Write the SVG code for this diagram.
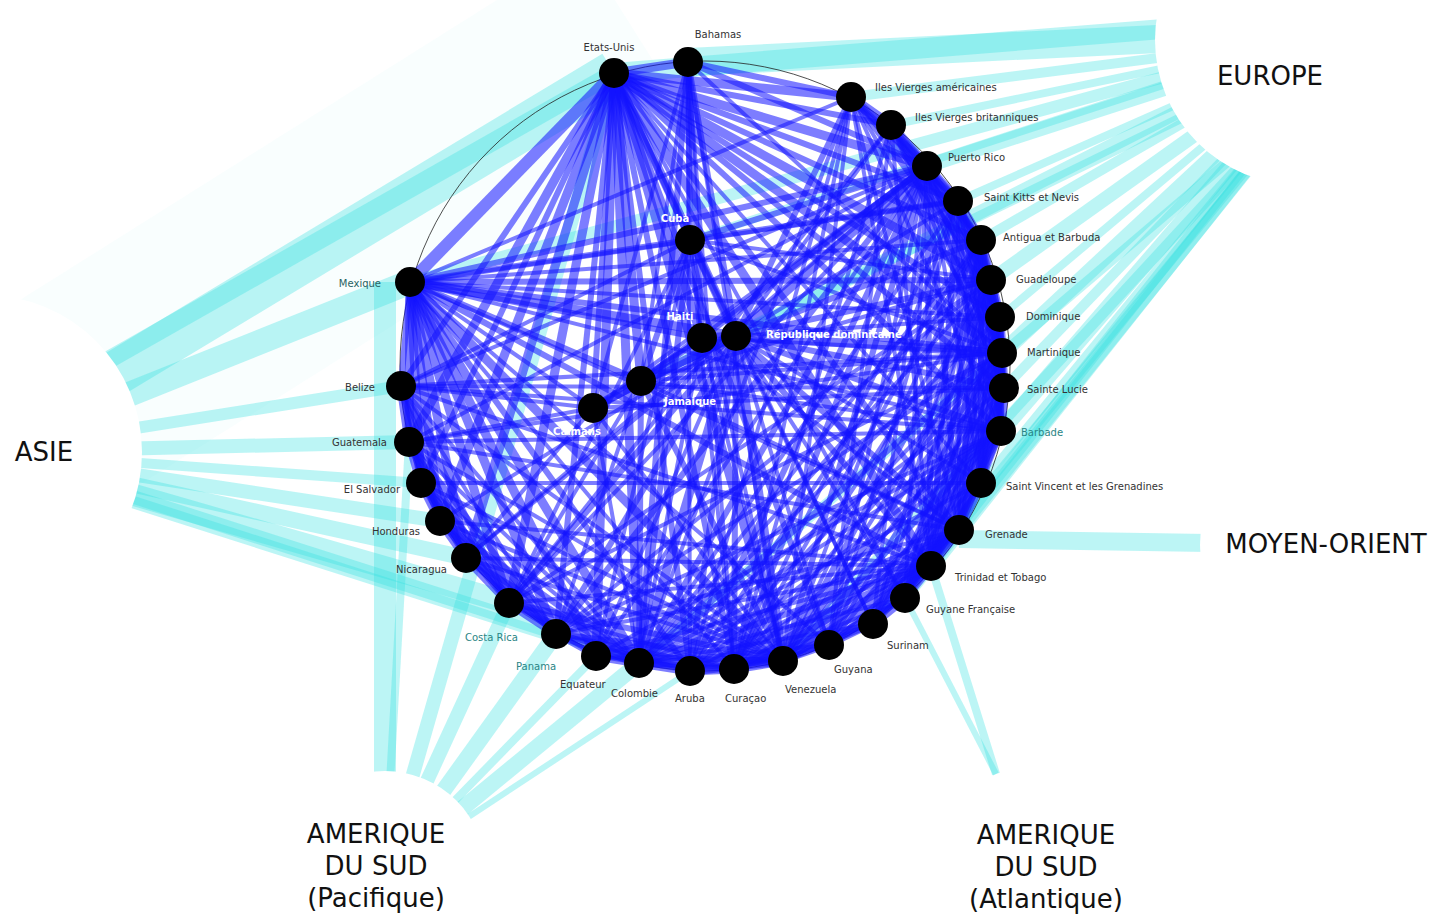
<svg xmlns="http://www.w3.org/2000/svg" width="1429" height="914" viewBox="0 0 1429 914">
<style>
.cy{stroke:#35e0e0;stroke-opacity:0.33;fill:none;stroke-linecap:butt}
.ed path{stroke:#1212ff;stroke-opacity:0.55;fill:none;stroke-linecap:butt}
.e1{stroke-width:4}
.e2{stroke-width:6}
.e3{stroke-width:9}
.e4{stroke-width:12}
.nd circle{fill:#000}
.lb{font-family:"DejaVu Sans",Verdana,sans-serif;font-size:10px;fill:#333}
.lt{fill:#2a8585}
.in{font-family:"DejaVu Sans",Verdana,sans-serif;font-size:10px;font-weight:bold;fill:#fff}
.rg{font-family:"DejaVu Sans",Verdana,sans-serif;font-size:26px;fill:#111;text-anchor:middle}
</style>
<rect width="1429" height="914" fill="#fff"/>
<g id="region-bands">
<path class="cy" style="stroke-opacity:0.03" stroke-width="220" d="M640 40L-15 452"/>
<path class="cy" stroke-width="45" d="M614 73L-15 452"/>
<path class="cy" stroke-width="18" d="M614 73L-15 430"/>
<path class="cy" stroke-width="25" d="M410 282L-15 452"/>
<path class="cy" stroke-width="12" d="M401 386L-15 452"/>
<path class="cy" stroke-width="14" d="M409 442L-15 452"/>
<path class="cy" stroke-width="10" d="M421 483L-15 452"/>
<path class="cy" stroke-width="14" d="M440 521L-15 452"/>
<path class="cy" stroke-width="16" d="M466 558L-15 452"/>
<path class="cy" stroke-width="22" d="M509 603L-15 452"/>
<path class="cy" stroke-width="18" d="M556 634L-15 452"/>
<path class="cy" stroke-width="8" d="M639 663L-15 452"/>
<path class="cy" stroke-width="20" d="M614 73L1300 18"/>
<path class="cy" stroke-width="28" d="M688 62L1300 32"/>
<path class="cy" stroke-width="10" d="M851 97L1300 40"/>
<path class="cy" stroke-width="8" d="M891 125L1300 40"/>
<path class="cy" stroke-width="14" d="M927 166L1300 45"/>
<path class="cy" stroke-width="8" d="M958 201L1300 50"/>
<path class="cy" stroke-width="10" d="M981 240L1300 55"/>
<path class="cy" stroke-width="14" d="M991 280L1300 60"/>
<path class="cy" stroke-width="8" d="M1000 317L1300 65"/>
<path class="cy" stroke-width="16" d="M1002 353L1300 75"/>
<path class="cy" stroke-width="10" d="M1004 388L1300 80"/>
<path class="cy" stroke-width="16" d="M1001 431L1300 85"/>
<path class="cy" stroke-width="8" d="M981 483L1300 95"/>
<path class="cy" stroke-width="6" d="M959 530L1300 100"/>
<path class="cy" stroke-width="16" d="M931 566L1300 100"/>
<path class="cy" stroke-width="12" d="M905 598L1300 105"/>
<path class="cy" stroke-width="8" d="M873 624L1300 105"/>
<path class="cy" stroke-width="14" d="M736 336L1300 50"/>
<path class="cy" stroke-width="10" d="M641 381L1300 60"/>
<path class="cy" stroke-width="8" d="M690 240L1300 40"/>
<path class="cy" stroke-width="10" d="M639 663L1300 100"/>
<path class="cy" stroke-width="10" d="M783 661L1300 100"/>
<path class="cy" stroke-width="12" d="M410 282L1300 40"/>
<path class="cy" stroke-width="18" d="M959 539L1330 545"/>
<path class="cy" stroke-width="8" d="M931 566L996 774"/>
<path class="cy" stroke-width="6" d="M905 598L996 774"/>
<path class="cy" stroke-width="22" d="M385 282L385 872"/>
<path class="cy" stroke-width="14" d="M614 73L385 872"/>
<path class="cy" stroke-width="8" d="M409 442L385 872"/>
<path class="cy" stroke-width="14" d="M509 603L385 872"/>
<path class="cy" stroke-width="16" d="M556 634L385 872"/>
<path class="cy" stroke-width="8" d="M596 656L385 872"/>
<path class="cy" stroke-width="16" d="M639 663L385 872"/>
<path class="cy" stroke-width="6" d="M690 671L385 872"/>
<circle cx="-15" cy="452" r="157" fill="#fff"/>
<circle cx="1300" cy="40" r="145" fill="#fff"/>
<circle cx="1330" cy="545" r="130" fill="#fff"/>
<circle cx="385" cy="872" r="101" fill="#fff"/>
</g>
<circle cx="705" cy="366" r="305" fill="none" stroke="#222" stroke-width="0.8"/>
<g id="connectors" class="ed">
<path class="e3" d="M614 73L688 62"/><path class="e3" d="M614 73L851 97"/><path class="e2" d="M614 73L891 125"/><path class="e3" d="M614 73L927 166"/><path class="e2" d="M614 73L958 201"/><path class="e2" d="M614 73L981 240"/><path class="e3" d="M614 73L991 280"/><path class="e2" d="M614 73L1000 317"/><path class="e3" d="M614 73L1002 353"/><path class="e2" d="M614 73L1004 388"/><path class="e2" d="M614 73L1001 431"/><path class="e1" d="M614 73L981 483"/><path class="e2" d="M614 73L959 530"/><path class="e3" d="M614 73L931 566"/><path class="e1" d="M614 73L905 598"/><path class="e1" d="M614 73L873 624"/><path class="e2" d="M614 73L829 645"/><path class="e3" d="M614 73L783 661"/><path class="e2" d="M614 73L734 669"/><path class="e2" d="M614 73L690 671"/><path class="e3" d="M614 73L639 663"/><path class="e3" d="M614 73L596 656"/><path class="e2" d="M614 73L556 634"/><path class="e3" d="M614 73L509 603"/><path class="e3" d="M614 73L466 558"/><path class="e3" d="M614 73L440 521"/><path class="e2" d="M614 73L421 483"/><path class="e3" d="M614 73L409 442"/><path class="e2" d="M614 73L401 386"/><path class="e4" d="M614 73L410 282"/><path class="e2" d="M614 73L690 240"/><path class="e3" d="M614 73L702 338"/><path class="e3" d="M614 73L736 336"/><path class="e3" d="M614 73L641 381"/><path class="e2" d="M614 73L593 408"/>
<path class="e1" d="M410 282L851 97"/><path class="e2" d="M410 282L927 166"/><path class="e1" d="M410 282L958 201"/><path class="e2" d="M410 282L991 280"/><path class="e2" d="M410 282L1002 353"/><path class="e1" d="M410 282L1001 431"/><path class="e1" d="M410 282L959 530"/><path class="e2" d="M410 282L931 566"/><path class="e1" d="M410 282L829 645"/><path class="e3" d="M410 282L783 661"/><path class="e1" d="M410 282L734 669"/><path class="e2" d="M410 282L690 671"/><path class="e3" d="M410 282L639 663"/><path class="e3" d="M410 282L596 656"/><path class="e3" d="M410 282L556 634"/><path class="e3" d="M410 282L509 603"/><path class="e3" d="M410 282L466 558"/><path class="e3" d="M410 282L440 521"/><path class="e3" d="M410 282L421 483"/><path class="e3" d="M410 282L409 442"/><path class="e2" d="M410 282L401 386"/><path class="e2" d="M410 282L690 240"/><path class="e2" d="M410 282L702 338"/><path class="e3" d="M410 282L736 336"/><path class="e2" d="M410 282L641 381"/><path class="e1" d="M410 282L593 408"/><path class="e1" d="M410 282L1000 317"/><path class="e1" d="M410 282L981 240"/>
<path class="e2" d="M688 62L690 240"/><path class="e2" d="M688 62L702 338"/><path class="e2" d="M688 62L736 336"/><path class="e2" d="M688 62L639 663"/><path class="e1" d="M688 62L783 661"/><path class="e1" d="M688 62L641 381"/><path class="e2" d="M688 62L851 97"/><path class="e2" d="M688 62L927 166"/><path class="e1" d="M688 62L734 669"/><path class="e1" d="M688 62L690 671"/><path class="e1" d="M688 62L593 408"/><path class="e1" d="M688 62L1002 353"/>
<path class="e2" d="M690 240L736 336"/><path class="e1" d="M690 240L702 338"/><path class="e2" d="M690 240L641 381"/><path class="e2" d="M690 240L639 663"/><path class="e1" d="M690 240L783 661"/><path class="e2" d="M690 240L927 166"/><path class="e1" d="M690 240L1002 353"/><path class="e1" d="M690 240L991 280"/><path class="e1" d="M690 240L509 603"/><path class="e1" d="M690 240L596 656"/><path class="e1" d="M690 240L734 669"/><path class="e1" d="M690 240L401 386"/><path class="e2" d="M690 240L958 201"/>
<path class="e3" d="M702 338L736 336"/><path class="e2" d="M702 338L641 381"/><path class="e1" d="M702 338L1002 353"/><path class="e2" d="M702 338L927 166"/><path class="e1" d="M702 338L639 663"/><path class="e1" d="M702 338L783 661"/><path class="e1" d="M702 338L593 408"/><path class="e1" d="M702 338L959 530"/>
<path class="e2" d="M736 336L851 97"/><path class="e1" d="M736 336L891 125"/><path class="e3" d="M736 336L927 166"/><path class="e1" d="M736 336L958 201"/><path class="e2" d="M736 336L981 240"/><path class="e2" d="M736 336L991 280"/><path class="e1" d="M736 336L1000 317"/><path class="e3" d="M736 336L1002 353"/><path class="e2" d="M736 336L1004 388"/><path class="e2" d="M736 336L1001 431"/><path class="e1" d="M736 336L981 483"/><path class="e2" d="M736 336L959 530"/><path class="e2" d="M736 336L931 566"/><path class="e1" d="M736 336L905 598"/><path class="e1" d="M736 336L873 624"/><path class="e1" d="M736 336L829 645"/><path class="e3" d="M736 336L783 661"/><path class="e2" d="M736 336L734 669"/><path class="e2" d="M736 336L690 671"/><path class="e3" d="M736 336L639 663"/><path class="e1" d="M736 336L596 656"/><path class="e2" d="M736 336L556 634"/><path class="e2" d="M736 336L509 603"/><path class="e1" d="M736 336L466 558"/><path class="e1" d="M736 336L440 521"/><path class="e3" d="M736 336L641 381"/><path class="e2" d="M736 336L593 408"/>
<path class="e3" d="M641 381L593 408"/><path class="e2" d="M641 381L927 166"/><path class="e1" d="M641 381L1002 353"/><path class="e2" d="M641 381L639 663"/><path class="e2" d="M641 381L783 661"/><path class="e1" d="M641 381L556 634"/><path class="e1" d="M641 381L509 603"/><path class="e1" d="M641 381L959 530"/><path class="e1" d="M641 381L991 280"/><path class="e1" d="M641 381L1001 431"/>
<path class="e1" d="M593 408L927 166"/><path class="e1" d="M593 408L639 663"/><path class="e1" d="M593 408L401 386"/><path class="e1" d="M593 408L409 442"/><path class="e1" d="M593 408L1004 388"/><path class="e1" d="M593 408L783 661"/><path class="e1" d="M593 408L466 558"/>
<path class="e3" d="M927 166L851 97"/><path class="e3" d="M927 166L891 125"/><path class="e3" d="M927 166L958 201"/><path class="e2" d="M927 166L981 240"/><path class="e2" d="M927 166L991 280"/><path class="e2" d="M927 166L1000 317"/><path class="e2" d="M927 166L1002 353"/><path class="e2" d="M927 166L1004 388"/><path class="e2" d="M927 166L1001 431"/><path class="e1" d="M927 166L981 483"/><path class="e2" d="M927 166L959 530"/><path class="e2" d="M927 166L931 566"/><path class="e1" d="M927 166L905 598"/><path class="e1" d="M927 166L873 624"/><path class="e1" d="M927 166L829 645"/><path class="e2" d="M927 166L783 661"/><path class="e2" d="M927 166L734 669"/><path class="e2" d="M927 166L690 671"/><path class="e2" d="M927 166L639 663"/><path class="e1" d="M927 166L596 656"/><path class="e2" d="M927 166L556 634"/><path class="e1" d="M927 166L509 603"/><path class="e1" d="M927 166L466 558"/><path class="e1" d="M927 166L409 442"/><path class="e1" d="M927 166L401 386"/>
<path class="e3" d="M851 97L891 125"/><path class="e2" d="M851 97L958 201"/><path class="e2" d="M851 97L981 240"/><path class="e2" d="M851 97L991 280"/><path class="e1" d="M851 97L1002 353"/><path class="e1" d="M851 97L1001 431"/><path class="e1" d="M851 97L931 566"/><path class="e1" d="M851 97L783 661"/><path class="e1" d="M851 97L734 669"/><path class="e1" d="M851 97L690 671"/><path class="e1" d="M851 97L639 663"/><path class="e1" d="M851 97L959 530"/>
<path class="e2" d="M891 125L958 201"/><path class="e2" d="M891 125L981 240"/><path class="e1" d="M891 125L991 280"/><path class="e1" d="M891 125L1000 317"/><path class="e1" d="M891 125L1002 353"/><path class="e1" d="M891 125L1004 388"/><path class="e1" d="M891 125L931 566"/><path class="e1" d="M891 125L829 645"/><path class="e1" d="M891 125L734 669"/><path class="e1" d="M891 125L509 603"/>
<path class="e3" d="M958 201L981 240"/><path class="e2" d="M958 201L991 280"/><path class="e2" d="M958 201L1000 317"/><path class="e2" d="M958 201L1002 353"/><path class="e2" d="M958 201L1004 388"/><path class="e1" d="M958 201L1001 431"/><path class="e1" d="M958 201L981 483"/><path class="e1" d="M958 201L959 530"/><path class="e2" d="M958 201L931 566"/><path class="e1" d="M958 201L783 661"/><path class="e1" d="M958 201L734 669"/><path class="e1" d="M958 201L639 663"/><path class="e1" d="M958 201L829 645"/>
<path class="e3" d="M981 240L991 280"/><path class="e2" d="M981 240L1000 317"/><path class="e2" d="M981 240L1002 353"/><path class="e2" d="M981 240L1004 388"/><path class="e2" d="M981 240L1001 431"/><path class="e2" d="M981 240L981 483"/><path class="e2" d="M981 240L959 530"/><path class="e2" d="M981 240L931 566"/><path class="e1" d="M981 240L905 598"/><path class="e1" d="M981 240L873 624"/><path class="e1" d="M981 240L783 661"/><path class="e1" d="M981 240L734 669"/><path class="e1" d="M981 240L639 663"/><path class="e1" d="M981 240L690 671"/>
<path class="e3" d="M991 280L1000 317"/><path class="e3" d="M991 280L1002 353"/><path class="e2" d="M991 280L1004 388"/><path class="e2" d="M991 280L1001 431"/><path class="e2" d="M991 280L981 483"/><path class="e2" d="M991 280L959 530"/><path class="e2" d="M991 280L931 566"/><path class="e2" d="M991 280L905 598"/><path class="e1" d="M991 280L873 624"/><path class="e1" d="M991 280L829 645"/><path class="e2" d="M991 280L783 661"/><path class="e1" d="M991 280L734 669"/><path class="e1" d="M991 280L639 663"/><path class="e1" d="M991 280L556 634"/><path class="e1" d="M991 280L509 603"/>
<path class="e3" d="M1000 317L1002 353"/><path class="e2" d="M1000 317L1004 388"/><path class="e2" d="M1000 317L1001 431"/><path class="e2" d="M1000 317L981 483"/><path class="e1" d="M1000 317L959 530"/><path class="e2" d="M1000 317L931 566"/><path class="e1" d="M1000 317L905 598"/><path class="e1" d="M1000 317L783 661"/><path class="e1" d="M1000 317L639 663"/>
<path class="e3" d="M1002 353L1004 388"/><path class="e2" d="M1002 353L1001 431"/><path class="e2" d="M1002 353L981 483"/><path class="e2" d="M1002 353L959 530"/><path class="e2" d="M1002 353L931 566"/><path class="e2" d="M1002 353L905 598"/><path class="e1" d="M1002 353L873 624"/><path class="e1" d="M1002 353L829 645"/><path class="e2" d="M1002 353L783 661"/><path class="e1" d="M1002 353L734 669"/><path class="e1" d="M1002 353L690 671"/><path class="e2" d="M1002 353L639 663"/><path class="e1" d="M1002 353L556 634"/><path class="e1" d="M1002 353L509 603"/><path class="e1" d="M1002 353L409 442"/><path class="e1" d="M1002 353L401 386"/>
<path class="e3" d="M1004 388L1001 431"/><path class="e2" d="M1004 388L981 483"/><path class="e2" d="M1004 388L959 530"/><path class="e2" d="M1004 388L931 566"/><path class="e1" d="M1004 388L905 598"/><path class="e1" d="M1004 388L873 624"/><path class="e1" d="M1004 388L783 661"/><path class="e1" d="M1004 388L639 663"/><path class="e1" d="M1004 388L401 386"/>
<path class="e2" d="M1001 431L981 483"/><path class="e2" d="M1001 431L959 530"/><path class="e2" d="M1001 431L931 566"/><path class="e1" d="M1001 431L905 598"/><path class="e1" d="M1001 431L873 624"/><path class="e1" d="M1001 431L829 645"/><path class="e2" d="M1001 431L783 661"/><path class="e1" d="M1001 431L734 669"/><path class="e1" d="M1001 431L690 671"/><path class="e1" d="M1001 431L639 663"/><path class="e1" d="M1001 431L596 656"/><path class="e1" d="M1001 431L556 634"/><path class="e1" d="M1001 431L401 386"/><path class="e1" d="M1001 431L409 442"/>
<path class="e3" d="M981 483L959 530"/><path class="e2" d="M981 483L931 566"/><path class="e1" d="M981 483L905 598"/><path class="e1" d="M981 483L783 661"/><path class="e1" d="M981 483L639 663"/><path class="e1" d="M981 483L421 483"/>
<path class="e3" d="M959 530L931 566"/><path class="e2" d="M959 530L905 598"/><path class="e1" d="M959 530L873 624"/><path class="e1" d="M959 530L829 645"/><path class="e2" d="M959 530L783 661"/><path class="e1" d="M959 530L734 669"/><path class="e1" d="M959 530L690 671"/><path class="e1" d="M959 530L639 663"/><path class="e1" d="M959 530L556 634"/><path class="e1" d="M959 530L409 442"/>
<path class="e3" d="M931 566L905 598"/><path class="e2" d="M931 566L873 624"/><path class="e2" d="M931 566L829 645"/><path class="e3" d="M931 566L783 661"/><path class="e2" d="M931 566L734 669"/><path class="e2" d="M931 566L690 671"/><path class="e2" d="M931 566L639 663"/><path class="e1" d="M931 566L596 656"/><path class="e1" d="M931 566L556 634"/><path class="e1" d="M931 566L509 603"/><path class="e1" d="M931 566L466 558"/><path class="e1" d="M931 566L440 521"/><path class="e1" d="M931 566L401 386"/>
<path class="e3" d="M905 598L873 624"/><path class="e2" d="M905 598L829 645"/><path class="e1" d="M905 598L783 661"/><path class="e1" d="M905 598L639 663"/><path class="e1" d="M905 598L734 669"/>
<path class="e2" d="M873 624L829 645"/><path class="e2" d="M873 624L783 661"/><path class="e1" d="M873 624L734 669"/><path class="e1" d="M873 624L639 663"/>
<path class="e2" d="M829 645L783 661"/><path class="e1" d="M829 645L734 669"/><path class="e1" d="M829 645L639 663"/>
<path class="e3" d="M783 661L734 669"/><path class="e3" d="M783 661L690 671"/><path class="e3" d="M783 661L639 663"/><path class="e2" d="M783 661L596 656"/><path class="e2" d="M783 661L556 634"/><path class="e2" d="M783 661L509 603"/><path class="e1" d="M783 661L466 558"/><path class="e1" d="M783 661L440 521"/><path class="e1" d="M783 661L421 483"/><path class="e1" d="M783 661L409 442"/><path class="e1" d="M783 661L401 386"/>
<path class="e3" d="M734 669L690 671"/><path class="e2" d="M734 669L639 663"/><path class="e1" d="M734 669L596 656"/><path class="e1" d="M734 669L556 634"/><path class="e1" d="M734 669L509 603"/>
<path class="e3" d="M690 671L639 663"/><path class="e1" d="M690 671L596 656"/><path class="e1" d="M690 671L556 634"/>
<path class="e3" d="M639 663L596 656"/><path class="e3" d="M639 663L556 634"/><path class="e2" d="M639 663L509 603"/><path class="e2" d="M639 663L466 558"/><path class="e2" d="M639 663L440 521"/><path class="e1" d="M639 663L421 483"/><path class="e1" d="M639 663L409 442"/><path class="e1" d="M639 663L401 386"/>
<path class="e2" d="M596 656L556 634"/><path class="e1" d="M596 656L509 603"/>
<path class="e3" d="M556 634L509 603"/><path class="e2" d="M556 634L466 558"/><path class="e2" d="M556 634L440 521"/><path class="e2" d="M556 634L421 483"/><path class="e2" d="M556 634L409 442"/><path class="e1" d="M556 634L401 386"/>
<path class="e3" d="M509 603L466 558"/><path class="e2" d="M509 603L440 521"/><path class="e2" d="M509 603L421 483"/><path class="e2" d="M509 603L409 442"/><path class="e2" d="M509 603L401 386"/>
<path class="e3" d="M466 558L440 521"/><path class="e2" d="M466 558L421 483"/><path class="e2" d="M466 558L409 442"/><path class="e1" d="M466 558L401 386"/>
<path class="e3" d="M440 521L421 483"/><path class="e2" d="M440 521L409 442"/><path class="e2" d="M440 521L401 386"/>
<path class="e3" d="M421 483L409 442"/><path class="e2" d="M421 483L401 386"/>
<path class="e3" d="M409 442L401 386"/>
</g>
<g class="nd">
<g id="n-etats-unis"><circle cx="614" cy="73" r="15"/><text class="lb" x="609" y="51" text-anchor="middle">Etats-Unis</text></g>
<g id="n-bahamas"><circle cx="688" cy="62" r="15"/><text class="lb" x="718" y="38" text-anchor="middle">Bahamas</text></g>
<g id="n-iva"><circle cx="851" cy="97" r="15"/><text class="lb" x="875" y="91">Iles Vierges américaines</text></g>
<g id="n-ivb"><circle cx="891" cy="125" r="15"/><text class="lb" x="915" y="121">Iles Vierges britanniques</text></g>
<g id="n-pr"><circle cx="927" cy="166" r="15"/><text class="lb" x="948" y="161">Puerto Rico</text></g>
<g id="n-skn"><circle cx="958" cy="201" r="15"/><text class="lb" x="984" y="201">Saint Kitts et Nevis</text></g>
<g id="n-ab"><circle cx="981" cy="240" r="15"/><text class="lb" x="1003" y="241">Antigua et Barbuda</text></g>
<g id="n-gp"><circle cx="991" cy="280" r="15"/><text class="lb" x="1016" y="283">Guadeloupe</text></g>
<g id="n-dm"><circle cx="1000" cy="317" r="15"/><text class="lb" x="1026" y="320">Dominique</text></g>
<g id="n-mq"><circle cx="1002" cy="353" r="15"/><text class="lb" x="1027" y="356">Martinique</text></g>
<g id="n-lc"><circle cx="1004" cy="388" r="15"/><text class="lb" x="1027" y="393">Sainte Lucie</text></g>
<g id="n-bb"><circle cx="1001" cy="431" r="15"/><text class="lb lt" x="1021" y="436">Barbade</text></g>
<g id="n-vc"><circle cx="981" cy="483" r="15"/><text class="lb" x="1006" y="490">Saint Vincent et les Grenadines</text></g>
<g id="n-gd"><circle cx="959" cy="530" r="15"/><text class="lb" x="985" y="538">Grenade</text></g>
<g id="n-tt"><circle cx="931" cy="566" r="15"/><text class="lb" x="955" y="581">Trinidad et Tobago</text></g>
<g id="n-gf"><circle cx="905" cy="598" r="15"/><text class="lb" x="926" y="613">Guyane Française</text></g>
<g id="n-sr"><circle cx="873" cy="624" r="15"/><text class="lb" x="887" y="649">Surinam</text></g>
<g id="n-gy"><circle cx="829" cy="645" r="15"/><text class="lb" x="834" y="673">Guyana</text></g>
<g id="n-ve"><circle cx="783" cy="661" r="15"/><text class="lb" x="785" y="693">Venezuela</text></g>
<g id="n-cw"><circle cx="734" cy="669" r="15"/><text class="lb" x="725" y="702">Curaçao</text></g>
<g id="n-aw"><circle cx="690" cy="671" r="15"/><text class="lb" x="675" y="702">Aruba</text></g>
<g id="n-co"><circle cx="639" cy="663" r="15"/><text class="lb" x="611" y="697">Colombie</text></g>
<g id="n-ec"><circle cx="596" cy="656" r="15"/><text class="lb" x="560" y="688">Equateur</text></g>
<g id="n-pa"><circle cx="556" cy="634" r="15"/><text class="lb lt" x="516" y="670">Panama</text></g>
<g id="n-cr"><circle cx="509" cy="603" r="15"/><text class="lb lt" x="465" y="641">Costa Rica</text></g>
<g id="n-ni"><circle cx="466" cy="558" r="15"/><text class="lb" x="447" y="573" text-anchor="end">Nicaragua</text></g>
<g id="n-hn"><circle cx="440" cy="521" r="15"/><text class="lb" x="420" y="535" text-anchor="end">Honduras</text></g>
<g id="n-sv"><circle cx="421" cy="483" r="15"/><text class="lb" x="400" y="493" text-anchor="end">El Salvador</text></g>
<g id="n-gt"><circle cx="409" cy="442" r="15"/><text class="lb" x="387" y="446" text-anchor="end">Guatemala</text></g>
<g id="n-bz"><circle cx="401" cy="386" r="15"/><text class="lb" x="375" y="391" text-anchor="end">Belize</text></g>
<g id="n-mx"><circle cx="410" cy="282" r="15"/><text class="lb" x="381" y="287" text-anchor="end" style="fill:#2a6363">Mexique</text></g>
<g id="n-cu"><circle cx="690" cy="240" r="15"/><text class="in" x="675" y="222" text-anchor="middle">Cuba</text></g>
<g id="n-ht"><circle cx="702" cy="338" r="15"/><text class="in" x="680" y="320" text-anchor="middle">Haiti</text></g>
<g id="n-do"><circle cx="736" cy="336" r="15"/><text class="in" x="766" y="338">République dominicaine</text></g>
<g id="n-jm"><circle cx="641" cy="381" r="15"/><text class="in" x="690" y="405" text-anchor="middle">Jamaique</text></g>
<g id="n-ky"><circle cx="593" cy="408" r="15"/><text class="in" x="577" y="435" text-anchor="middle">Caimans</text></g>
</g>
<g id="regions">
<text class="rg" x="1270" y="85">EUROPE</text>
<text class="rg" x="44" y="461">ASIE</text>
<text class="rg" x="1326" y="553">MOYEN-ORIENT</text>
<text class="rg" x="376" y="843">AMERIQUE</text>
<text class="rg" x="376" y="875">DU SUD</text>
<text class="rg" x="376" y="907">(Pacifique)</text>
<text class="rg" x="1046" y="844">AMERIQUE</text>
<text class="rg" x="1046" y="876">DU SUD</text>
<text class="rg" x="1046" y="908">(Atlantique)</text>
</g>
</svg>
